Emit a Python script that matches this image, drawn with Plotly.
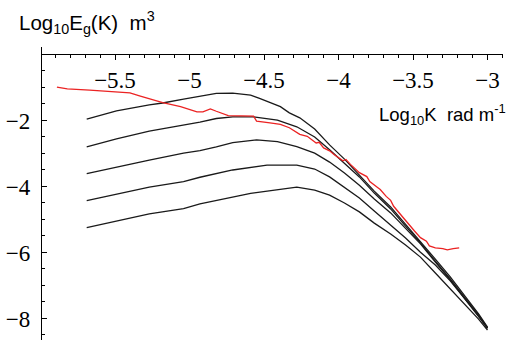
import plotly.graph_objects as go

# ---- data ----
c1_x = [-5.69, -5.49, -5.27, -5.18, -5.04, -4.93, -4.82, -4.71, -4.59, -4.53, -4.39, -4.33, -4.26,
        -4.16, -4.06, -3.96, -3.86, -3.76, -3.65, -3.55, -3.45, -3.35, -3.25, -3.15, -3.06, -3.00]
c1_y = [-1.96, -1.71, -1.53, -1.47, -1.35, -1.26, -1.18, -1.17, -1.23, -1.33, -1.58, -1.77, -1.92,
        -2.26, -2.74, -3.17, -3.65, -4.14, -4.62, -5.14, -5.65, -6.20, -6.74, -7.32, -7.86, -8.26]

c2_x = [-5.69, -5.49, -5.27, -5.04, -4.93, -4.82, -4.71, -4.57, -4.41, -4.28, -4.16, -4.06,
        -3.96, -3.86, -3.76, -3.65, -3.55, -3.45, -3.35, -3.25, -3.15, -3.06, -3.00]
c2_y = [-2.80, -2.56, -2.32, -2.14, -2.05, -1.94, -1.89, -1.89, -1.99, -2.19, -2.50, -2.89,
        -3.29, -3.71, -4.20, -4.68, -5.20, -5.71, -6.26, -6.80, -7.38, -7.89, -8.29]

c3_x = [-5.69, -5.49, -5.27, -5.04, -4.93, -4.82, -4.71, -4.55, -4.41, -4.28, -4.16, -4.06,
        -3.96, -3.86, -3.76, -3.65, -3.55, -3.45, -3.35, -3.25, -3.15, -3.06, -3.00]
c3_y = [-3.61, -3.41, -3.20, -2.99, -2.91, -2.80, -2.67, -2.59, -2.64, -2.79, -2.99, -3.26,
        -3.59, -3.96, -4.38, -4.80, -5.26, -5.74, -6.29, -6.83, -7.41, -7.92, -8.29]

c4_x = [-5.69, -5.49, -5.27, -5.04, -4.93, -4.71, -4.48, -4.28, -4.16, -4.06, -3.96, -3.86,
        -3.76, -3.65, -3.55, -3.45, -3.35, -3.25, -3.15, -3.06, -3.00]
c4_y = [-4.43, -4.23, -4.02, -3.85, -3.72, -3.50, -3.35, -3.35, -3.47, -3.71, -4.02, -4.35,
        -4.74, -5.17, -5.56, -5.99, -6.38, -6.86, -7.41, -7.92, -8.29]

c5_x = [-5.69, -5.49, -5.27, -5.04, -4.93, -4.59, -4.39, -4.28, -4.16, -4.06, -3.96, -3.86,
        -3.76, -3.65, -3.55, -3.45, -3.35, -3.25, -3.15, -3.06, -3.00]
c5_y = [-5.25, -5.05, -4.83, -4.67, -4.53, -4.21, -4.09, -4.02, -4.11, -4.26, -4.50, -4.77,
        -5.11, -5.44, -5.77, -6.14, -6.62, -7.11, -7.59, -8.02, -8.35]

red_x = [-5.89, -5.82, -5.67, -5.49, -5.40, -5.33, -5.24, -5.18, -5.06, -4.95, -4.91, -4.86,
         -4.82, -4.74, -4.57, -4.55, -4.46, -4.39, -4.33, -4.26, -4.21, -4.15, -4.13, -4.10,
         -4.06, -4.03, -3.97, -3.95, -3.92, -3.88, -3.86, -3.81, -3.79, -3.74, -3.72, -3.68,
         -3.65, -3.63, -3.59, -3.55, -3.52, -3.49, -3.45, -3.41, -3.39, -3.35, -3.30, -3.27,
         -3.23, -3.19]
red_y = [-0.99, -1.04, -1.08, -1.13, -1.16, -1.26, -1.38, -1.46, -1.58, -1.74, -1.74, -1.65,
         -1.72, -1.85, -1.87, -2.02, -2.07, -2.12, -2.22, -2.42, -2.48, -2.68, -2.66, -2.83,
         -2.92, -3.03, -3.22, -3.18, -3.33, -3.48, -3.58, -3.70, -3.85, -4.02, -4.09, -4.30,
         -4.42, -4.60, -4.82, -5.02, -5.17, -5.35, -5.55, -5.66, -5.80, -5.86, -5.88, -5.92,
         -5.88, -5.86]

x_ticks = [-5.5, -5, -4.5, -4, -3.5, -3]
x_tick_text = ["−5.5", "−5", "−4.5", "−4", "−3.5", "−3"]
y_ticks = [-2, -4, -6, -8]
y_tick_text = ["−2", "−4", "−6", "−8"]

x_range = [-5.99, -2.896]
y_range = [-8.652, 0.227]

fig = go.Figure()
black = "#1a1a1a"
for xs, ys in [(c1_x, c1_y), (c2_x, c2_y), (c3_x, c3_y), (c4_x, c4_y), (c5_x, c5_y)]:
    fig.add_trace(go.Scatter(x=xs, y=ys, mode="lines",
                             line=dict(color=black, width=1.3), showlegend=False,
                             hoverinfo="skip"))
fig.add_trace(go.Scatter(x=red_x, y=red_y, mode="lines",
                         line=dict(color="rgb(235,35,35)", width=1.3), showlegend=False,
                         hoverinfo="skip"))

xpos = (0 - y_range[0]) / (y_range[1] - y_range[0])
tickfont = dict(family="Liberation Serif", size=23, color="black")

fig.update_layout(
    width=509, height=343,
    margin=dict(l=42, r=6, t=47, b=3),
    paper_bgcolor="white", plot_bgcolor="white",
    xaxis=dict(range=x_range, anchor="free", position=xpos, side="bottom",
               showline=True, linecolor="black", linewidth=1,
               ticks="outside", ticklen=5, tickwidth=1, tickcolor="black",
               tickvals=x_ticks, ticktext=x_tick_text, tickfont=tickfont,
               minor=dict(tick0=-6, dtick=0.1, ticks="outside", ticklen=3,
                          tickwidth=1, tickcolor="black", showgrid=False),
               showgrid=False, zeroline=False),
    yaxis=dict(range=y_range, showline=True, linecolor="black", linewidth=1.4,
               ticks="inside", ticklen=5, tickwidth=1, tickcolor="black",
               tickvals=y_ticks, ticktext=y_tick_text, tickfont=tickfont,
               ticklabelstandoff=6,
               minor=dict(tick0=0, dtick=0.5, ticks="inside", ticklen=3,
                          tickwidth=1, tickcolor="black", showgrid=False),
               showgrid=False, zeroline=False),
    annotations=[
        dict(text="Log<sub>10</sub>E<sub>g</sub>(K)&nbsp;&nbsp;m<sup>3</sup>",
             xref="paper", yref="paper", x=-0.054, y=1.085,
             xanchor="left", yanchor="middle", showarrow=False,
             font=dict(family="Liberation Sans", size=20.5, color="black")),
        dict(text="Log<sub>10</sub>K&nbsp;&nbsp;rad m<sup>-1</sup>",
             xref="paper", yref="paper", x=0.726, y=0.77,
             xanchor="left", yanchor="middle", showarrow=False,
             font=dict(family="Liberation Sans", size=18.5, color="black")),
    ],
)

fig.write_html("out.html")
